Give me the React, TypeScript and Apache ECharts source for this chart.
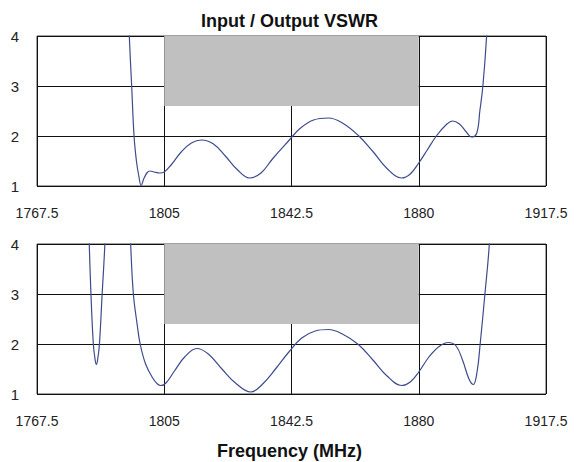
import React, { useEffect, useRef } from "react";
import * as echarts from "echarts";

const X_START = 1767.5;
const X_TICK_LABELS = [1767.5, 1805, 1842.5, 1880, 1917.5];
const Y_TICK_LABELS = [1, 2, 3, 4];

// Input VSWR (top panel)
const inputFreq = [
  1793.6, 1794.2, 1794.7, 1795.4, 1796.1, 1796.8, 1797.5, 1798.2, 1799.0, 1800.0, 1800.8, 1802.0, 1803.7, 1805.0,
  1807.0, 1810.0, 1813.0, 1816.0, 1819.5, 1823.0, 1826.5, 1830.1, 1833.5, 1837.0, 1841.6, 1845.0, 1849.0,
  1853.4, 1857.5, 1862.2, 1866.5, 1870.5, 1875.0, 1877.5, 1880.0, 1882.5, 1885.3, 1888.0, 1890.0, 1892.0,
  1894.0, 1895.6, 1897.1, 1898.0, 1898.9, 1900.0, 1900.6,
];
const inputVswr = [
  6.0, 5.0, 4.0, 3.0, 2.0, 1.5, 1.2, 1.01, 1.15, 1.27, 1.30, 1.28, 1.26, 1.28,
  1.42, 1.68, 1.86, 1.92, 1.84, 1.60, 1.33, 1.16, 1.26, 1.55, 1.90, 2.15, 2.32,
  2.36, 2.26, 2.01, 1.69, 1.36, 1.16, 1.24, 1.46, 1.72, 2.01, 2.22, 2.30, 2.24,
  2.08, 1.98, 2.06, 2.50, 3.0, 4.0, 5.0,
];

// Output VSWR (bottom panel)
const outputFreq = [
  1782.5, 1782.9, 1783.4, 1784.1, 1784.6, 1785.0, 1785.4, 1785.9, 1786.7, 1787.5, 1788.0,
  1794.6, 1795.1, 1795.9, 1797.0, 1797.9, 1799.5, 1801.5, 1803.0, 1804.0, 1805.5,
  1808.0, 1811.0, 1814.6, 1818.0, 1822.0, 1826.0, 1830.5, 1834.0, 1838.0, 1841.6, 1845.5, 1849.5,
  1853.4, 1857.5, 1862.2, 1866.5, 1870.5, 1875.0, 1877.5, 1880.0, 1883.0, 1886.0, 1888.7, 1891.0,
  1893.0, 1894.8, 1896.1, 1897.2, 1898.1, 1899.5, 1900.8, 1901.4,
];
const outputVswr = [
  5.0, 4.0, 3.0, 2.0, 1.7, 1.59, 1.7, 2.0, 3.0, 4.0, 5.0,
  5.0, 4.0, 3.0, 2.4, 2.0, 1.6, 1.33, 1.2, 1.17, 1.22,
  1.46, 1.74, 1.91, 1.80, 1.50, 1.22, 1.04, 1.20, 1.52, 1.83, 2.12, 2.26,
  2.29, 2.20, 1.99, 1.68, 1.37, 1.17, 1.24, 1.44, 1.74, 1.95, 2.03, 1.96,
  1.66, 1.30, 1.19, 1.45, 2.0, 3.0, 4.0, 5.0,
];

// Specification mask bands (grey areas)
const maskFreq = [1805, 1880];
const inputMaskLow = 2.6;
const outputMaskLow = 2.4;
const maskTop = 4;

const toPairs = (xs: number[], ys: number[]) => xs.map((x, i) => [x - X_START, ys[i]]);

export default function App() {
  const ref = useRef<HTMLDivElement>(null);

  useEffect(() => {
    if (!ref.current) return;
    const chart = echarts.init(ref.current, null, { renderer: "svg" });
    const xSpan = X_TICK_LABELS[X_TICK_LABELS.length - 1] - X_START;
    const xInterval = X_TICK_LABELS[1] - X_TICK_LABELS[0];
    const font = "'Liberation Sans', Arial, sans-serif";

    const makeX = (gridIndex: number) => ({
      type: "value",
      gridIndex,
      min: 0,
      max: xSpan,
      interval: xInterval,
      axisLine: { show: false },
      axisTick: { show: false },
      splitLine: { show: true, lineStyle: { color: "#111", width: 1 } },
      axisLabel: {
        color: "#222",
        fontSize: 14,
        fontFamily: font,
        margin: 20,
        formatter: (v: number) => String(v + X_START),
      },
    });
    const makeY = (gridIndex: number) => ({
      type: "value",
      gridIndex,
      min: Y_TICK_LABELS[0],
      max: Y_TICK_LABELS[Y_TICK_LABELS.length - 1],
      interval: 1,
      axisLine: { show: false },
      axisTick: { show: false },
      splitLine: { show: true, lineStyle: { color: "#111", width: 1 } },
      axisLabel: { color: "#222", fontSize: 15, fontFamily: font, margin: 18 },
    });

    const maskSeries = (idx: number, low: number) => ({
      type: "line",
      xAxisIndex: idx,
      yAxisIndex: idx,
      z: -1,
      data: [],
      silent: true,
      markArea: {
        silent: true,
        itemStyle: { color: "#c0c0c0" },
        data: [
          [
            { xAxis: maskFreq[0] - X_START, yAxis: low },
            { xAxis: maskFreq[1] - X_START, yAxis: maskTop },
          ],
        ],
      },
    });

    const curveSeries = (idx: number, xs: number[], ys: number[]) => ({
      type: "line",
      xAxisIndex: idx,
      yAxisIndex: idx,
      data: toPairs(xs, ys),
      smooth: 0.4,
      showSymbol: false,
      clip: true,
      lineStyle: { color: "#3d4b8c", width: 1.2 },
    });

    chart.setOption({
      animation: false,
      title: [
        {
          text: "Input / Output VSWR",
          left: "center",
          top: 7,
          textStyle: { fontSize: 18, fontWeight: "bold", color: "#111", fontFamily: font },
        },
        {
          text: "Frequency (MHz)",
          left: "center",
          top: 437,
          textStyle: { fontSize: 18, fontWeight: "bold", color: "#111", fontFamily: font },
        },
      ],
      grid: [
        { left: 37, right: 33, top: 36, height: 150, show: true, borderColor: "#444", borderWidth: 1, backgroundColor: "transparent" },
        { left: 37, right: 33, top: 244, height: 150, show: true, borderColor: "#444", borderWidth: 1, backgroundColor: "transparent" },
      ],
      xAxis: [makeX(0), makeX(1)],
      yAxis: [makeY(0), makeY(1)],
      series: [
        maskSeries(0, inputMaskLow),
        maskSeries(1, outputMaskLow),
        curveSeries(0, inputFreq, inputVswr),
        curveSeries(1, outputFreq, outputVswr),
      ],
    });
    return () => chart.dispose();
  }, []);

  return (
    <div
      ref={ref}
      style={{ position: "fixed", left: 0, top: 0, width: 579, height: 462, background: "#fff" }}
    />
  );
}
